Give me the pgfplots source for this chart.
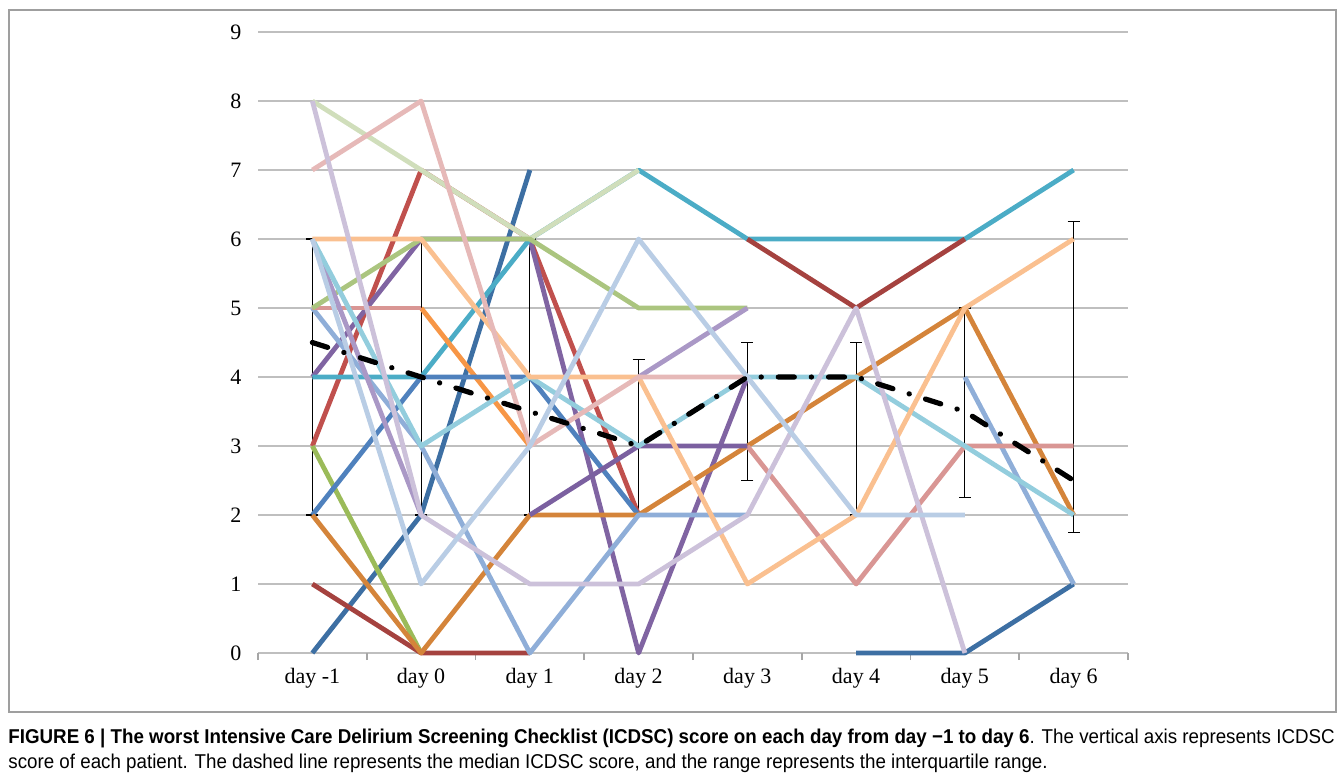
\documentclass[border=0pt]{standalone}
\usepackage{pgfplots}
\pgfplotsset{compat=1.18}
\usepackage{fontspec}
\setmainfont{Liberation Serif}
\newfontfamily\capfont[FakeStretch=0.938]{Liberation Sans}
\definecolor{cDarkBlue}{HTML}{3D6FA3}
\definecolor{cRed}{HTML}{C0504D}
\definecolor{cBrightGreen}{HTML}{9BBB59}
\definecolor{cPurple}{HTML}{8064A2}
\definecolor{cTeal}{HTML}{4BACC6}
\definecolor{cOrangeB}{HTML}{F79646}
\definecolor{cBlue}{HTML}{4F81BD}
\definecolor{cDarkRed}{HTML}{A5423F}
\definecolor{cOrange}{HTML}{D4843A}
\definecolor{cLightBlue}{HTML}{8FAED8}
\definecolor{cSalmon}{HTML}{D99694}
\definecolor{cPaleGreen}{HTML}{D0DEBB}
\definecolor{cGreen}{HTML}{ABC57F}
\definecolor{cLightPurple}{HTML}{AA98C6}
\definecolor{cDarkPurple}{HTML}{7B60A0}
\definecolor{cLightTeal}{HTML}{93CDDD}
\definecolor{cLightOrange}{HTML}{FAC090}
\definecolor{cPink}{HTML}{E6B9B8}
\definecolor{cLavender}{HTML}{CCC1DA}
\definecolor{cVLightBlue}{HTML}{B9CDE5}
\begin{document}
\begin{tikzpicture}
\path[use as bounding box] (0,0) rectangle (672pt,-389pt);
\draw[gray!75, line width=0.8pt] (4.5pt,-5pt) rectangle (668pt,-356pt);
\begin{axis}[
  at={(129pt,-326.5pt)}, anchor=south west,
  scale only axis, width=435pt, height=310.5pt,
  xmin=-0.5, xmax=7.5, ymin=0, ymax=9,
  axis line style={draw=none},
  xtick={0,...,7},
  xticklabels={day -1,day 0,day 1,day 2,day 3,day 4,day 5,day 6},
  minor xtick={-0.5,0.5,...,7.5},
  ytick={0,...,9},
  major tick length=0pt,
  minor tick length=3.5pt,
  tick align=outside,
  xtick pos=lower, ytick pos=left,
  minor tick style={gray!70, line width=0.8pt},
  ymajorgrids,
  grid style={gray!50, line width=0.8pt},
  tick label style={font=\fontsize{11}{13}\selectfont},
  /pgf/number format/assume math mode=true,
  xticklabel style={yshift=-4pt},
  yticklabel style={xshift=-4.8pt},
  clip=false,
  every axis plot/.append style={line width=2.4pt, line join=round, mark=none},
]
% error bars (IQR)
\addplot[draw=none, forget plot, error bars/.cd, y dir=both, y explicit,
  error mark=|, error mark options={black, line width=0.6pt, mark size=3pt},
  error bar style={black, line width=0.6pt}]
  coordinates {
  (0,4.5) += (0,1.5) -= (0,2.5)
  (1,4) += (0,2) -= (0,2)
  (2,3.5) += (0,2.5) -= (0,1.5)
  (3,3) += (0,1.25) -= (0,1)
  (4,4) += (0,0.5) -= (0,1.5)
  (5,4) += (0,0.5) -= (0,2)
  (6,3.5) += (0,1.5) -= (0,1.25)
  (7,2.5) += (0,3.75) -= (0,0.75)
  };
\addplot[cDarkBlue] coordinates {(0,0) (1,2) (2,7)};
\addplot[cDarkBlue] coordinates {(5,0) (6,0) (7,1)};
\addplot[cRed] coordinates {(0,3) (1,7) (2,6) (3,2)};
\addplot[cBrightGreen] coordinates {(0,3) (1,0)};
\addplot[cPurple] coordinates {(0,4) (1,6) (2,6) (3,0) (4,4)};
\addplot[cTeal] coordinates {(0,4) (1,4) (2,6) (3,7) (4,6) (5,6) (6,6) (7,7)};
\addplot[cOrangeB] coordinates {(1,5) (2,3)};
\addplot[cBlue] coordinates {(0,2) (1,4) (2,4) (3,2)};
\addplot[cDarkRed] coordinates {(0,1) (1,0) (2,0)};
\addplot[cDarkRed] coordinates {(4,6) (5,5) (6,6)};
\addplot[cOrange] coordinates {(0,2) (1,0) (2,2) (3,2) (4,3) (5,4) (6,5) (7,2)};
\addplot[cLightBlue] coordinates {(0,5) (1,3) (2,0) (3,2) (4,2)};
\addplot[cLightBlue] coordinates {(6,4) (7,1)};
\addplot[cSalmon] coordinates {(0,5) (1,5)};
\addplot[cSalmon] coordinates {(4,3) (5,1) (6,3) (7,3)};
\addplot[cPaleGreen] coordinates {(0,8) (1,7) (2,6) (3,7)};
\addplot[cGreen] coordinates {(0,5) (1,6) (2,6) (3,5) (4,5)};
\addplot[cLightPurple] coordinates {(0,6) (1,2)};
\addplot[cLightPurple] coordinates {(3,4) (4,5)};
\addplot[cDarkPurple] coordinates {(2,2) (3,3) (4,3)};
\addplot[cLightTeal] coordinates {(0,6) (1,3) (2,4) (3,3) (4,4) (5,4) (6,3) (7,2)};
\addplot[cLightOrange] coordinates {(0,6) (1,6) (2,4) (3,4) (4,1) (5,2) (6,5) (7,6)};
\addplot[cPink] coordinates {(0,7) (1,8) (2,3) (3,4) (4,4)};
\addplot[cLavender] coordinates {(0,8) (1,2) (2,1) (3,1) (4,2) (5,5) (6,0)};
\addplot[cVLightBlue] coordinates {(0,6) (1,1) (2,3) (3,6) (4,4) (5,2) (6,2)};
% median
\addplot[black, line width=2.6pt, line cap=round, dash pattern=on 8pt off 8.5pt on 0.1pt off 8.5pt]
  coordinates {(0,4.5) (1,4) (2,3.5) (3,3) (4,4) (5,4) (6,3.5) (7,2.5)};
\end{axis}
\node[anchor=west, inner sep=0pt] at (4pt,-369pt) {\capfont\fontsize{10}{12}\selectfont\textbf{FIGURE 6 | The worst Intensive Care Delirium Screening Checklist (ICDSC) score on each day from day −1 to day 6}. The vertical axis represents ICDSC};
\node[anchor=west, inner sep=0pt] at (4pt,-381.5pt) {\capfont\fontsize{10}{12}\selectfont score of each patient. The dashed line represents the median ICDSC score, and the range represents the interquartile range.};
\end{tikzpicture}
\end{document}
